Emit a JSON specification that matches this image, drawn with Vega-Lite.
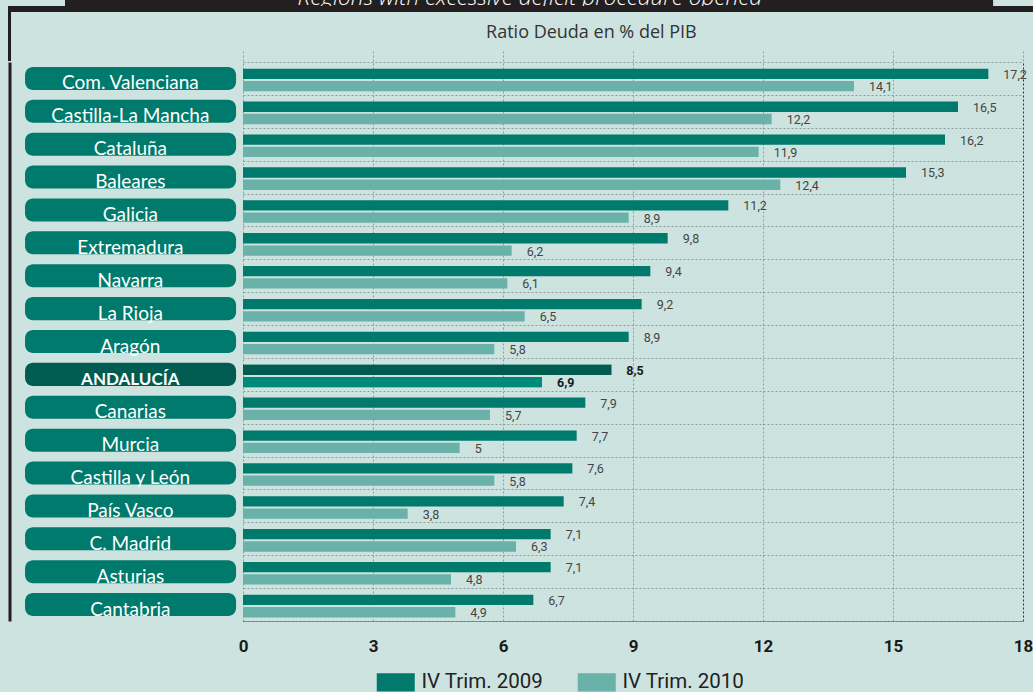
{
  "$schema": "https://vega.github.io/schema/vega-lite/v6.json",
  "background": "#cde3e0",
  "padding": {"left": 8, "top": 0, "right": 0, "bottom": 0},
  "spacing": 0,
  "config": {
    "view": {"stroke": null},
    "font": "Lato",
    "locale": {"number": {"decimal": ",", "thousands": ".", "grouping": [3], "currency": ["", " €"]}}
  },
  "vconcat": [
    {
      "width": 780,
      "height": 6,
      "data": {"values": [{"t": "Regions with excessive deficit procedure opened"}]},
      "layer": [
        {
          "mark": {"type": "rect", "color": "#231f20"},
          "encoding": {
            "x": {"datum": -4.108, "type": "quantitative", "scale": {"domain": [0, 18], "nice": false, "zero": false}, "axis": null},
            "x2": {"datum": 17.31},
            "y": {"value": 0},
            "y2": {"value": "height"}
          }
        },
        {
          "mark": {"type": "text", "clip": true, "color": "#ffffff", "font": "Open Sans", "fontStyle": "italic", "fontWeight": 300, "fontSize": 22.5, "baseline": "alphabetic", "dy": 1.5},
          "encoding": {
            "x": {"datum": 6.62, "type": "quantitative", "axis": null},
            "text": {"field": "t"}
          }
        }
      ]
    },
    {
      "width": 780,
      "height": 6,
      "data": {"values": [{}]},
      "mark": {"type": "rect", "color": "#231f20"},
      "encoding": {
        "x": {"datum": -5.423, "type": "quantitative", "scale": {"domain": [0, 18], "nice": false, "zero": false}, "axis": null},
        "x2": {"datum": 18.23},
        "y": {"value": 0},
        "y2": {"value": "height"}
      }
    },
    {
      "width": 780,
      "height": 49,
      "data": {"values": [{"t": "Ratio Deuda en % del PIB"}]},
      "resolve": {"axis": {"x": "independent"}},
      "layer": [
        {
          "mark": {"type": "rect", "color": "#231f20"},
          "encoding": {
            "x": {"datum": -5.423, "type": "quantitative", "scale": {"domain": [0, 18], "nice": false, "zero": false},
              "axis": {"orient": "bottom", "values": [0, 3, 6, 9, 12, 15, 18], "labels": false, "domain": false, "grid": false, "ticks": true, "tickSize": -11, "tickDash": [2, 2], "tickColor": "#8c9c9a", "title": null}},
            "x2": {"datum": -5.354},
            "y": {"value": 0},
            "y2": {"value": "height"}
          }
        },
        {
          "mark": {"type": "text", "color": "#333333", "font": "Open Sans", "fontSize": 18, "baseline": "middle", "dy": -3.5},
          "encoding": {
            "x": {"datum": 8.04, "type": "quantitative", "axis": null},
            "text": {"field": "t"}
          }
        }
      ]
    },
    {
      "width": 780,
      "height": 559,
      "data": {"values": [
        {"region": "Com. Valenciana", "serie": "IV Trim. 2009", "value": 17.2},
        {"region": "Com. Valenciana", "serie": "IV Trim. 2010", "value": 14.1},
        {"region": "Castilla-La Mancha", "serie": "IV Trim. 2009", "value": 16.5},
        {"region": "Castilla-La Mancha", "serie": "IV Trim. 2010", "value": 12.2},
        {"region": "Cataluña", "serie": "IV Trim. 2009", "value": 16.2},
        {"region": "Cataluña", "serie": "IV Trim. 2010", "value": 11.9},
        {"region": "Baleares", "serie": "IV Trim. 2009", "value": 15.3},
        {"region": "Baleares", "serie": "IV Trim. 2010", "value": 12.4},
        {"region": "Galicia", "serie": "IV Trim. 2009", "value": 11.2},
        {"region": "Galicia", "serie": "IV Trim. 2010", "value": 8.9},
        {"region": "Extremadura", "serie": "IV Trim. 2009", "value": 9.8},
        {"region": "Extremadura", "serie": "IV Trim. 2010", "value": 6.2},
        {"region": "Navarra", "serie": "IV Trim. 2009", "value": 9.4},
        {"region": "Navarra", "serie": "IV Trim. 2010", "value": 6.1},
        {"region": "La Rioja", "serie": "IV Trim. 2009", "value": 9.2},
        {"region": "La Rioja", "serie": "IV Trim. 2010", "value": 6.5},
        {"region": "Aragón", "serie": "IV Trim. 2009", "value": 8.9},
        {"region": "Aragón", "serie": "IV Trim. 2010", "value": 5.8},
        {"region": "ANDALUCÍA", "serie": "IV Trim. 2009", "value": 8.5},
        {"region": "ANDALUCÍA", "serie": "IV Trim. 2010", "value": 6.9},
        {"region": "Canarias", "serie": "IV Trim. 2009", "value": 7.9},
        {"region": "Canarias", "serie": "IV Trim. 2010", "value": 5.7},
        {"region": "Murcia", "serie": "IV Trim. 2009", "value": 7.7},
        {"region": "Murcia", "serie": "IV Trim. 2010", "value": 5},
        {"region": "Castilla y León", "serie": "IV Trim. 2009", "value": 7.6},
        {"region": "Castilla y León", "serie": "IV Trim. 2010", "value": 5.8},
        {"region": "País Vasco", "serie": "IV Trim. 2009", "value": 7.4},
        {"region": "País Vasco", "serie": "IV Trim. 2010", "value": 3.8},
        {"region": "C. Madrid", "serie": "IV Trim. 2009", "value": 7.1},
        {"region": "C. Madrid", "serie": "IV Trim. 2010", "value": 6.3},
        {"region": "Asturias", "serie": "IV Trim. 2009", "value": 7.1},
        {"region": "Asturias", "serie": "IV Trim. 2010", "value": 4.8},
        {"region": "Cantabria", "serie": "IV Trim. 2009", "value": 6.7},
        {"region": "Cantabria", "serie": "IV Trim. 2010", "value": 4.9}
      ]},
      "resolve": {"axis": {"x": "independent"}},
      "encoding": {
        "y": {
          "field": "region", "type": "nominal", "sort": null,
          "scale": {"domain": ["Com. Valenciana", "Castilla-La Mancha", "Cataluña", "Baleares", "Galicia", "Extremadura", "Navarra", "La Rioja", "Aragón", "ANDALUCÍA", "Canarias", "Murcia", "Castilla y León", "País Vasco", "C. Madrid", "Asturias", "Cantabria"], "paddingInner": 0, "paddingOuter": 0},
          "axis": {"title": null, "labels": false, "ticks": false, "domain": true, "domainColor": "#231f20", "domainWidth": 3, "offset": 233.5, "grid": true, "tickBand": "extent", "gridColor": "#8c9c9a", "gridDash": [2, 2], "gridWidth": 1}
        }
      },
      "layer": [
        {
          "transform": [{"filter": "datum.serie === 'IV Trim. 2009'"}],
          "mark": {"type": "bar", "cornerRadius": 8, "height": {"band": 0.7}},
          "encoding": {
            "x": {"datum": -5.03, "type": "quantitative", "axis": null},
            "x2": {"datum": -0.16},
            "color": {"condition": {"test": "datum.region === 'ANDALUCÍA'", "value": "#005c50"}, "value": "#007a6c"}
          }
        },
        {
          "transform": [{"filter": "datum.serie === 'IV Trim. 2009' && datum.region !== 'ANDALUCÍA'"}],
          "mark": {"type": "text", "color": "#ffffff", "font": "Lato", "fontSize": 19, "baseline": "alphabetic", "dy": 11},
          "encoding": {
            "x": {"datum": -2.6, "type": "quantitative", "axis": null},
            "text": {"field": "region"}
          }
        },
        {
          "transform": [{"filter": "datum.serie === 'IV Trim. 2009' && datum.region === 'ANDALUCÍA'"}],
          "mark": {"type": "text", "color": "#ffffff", "font": "Lato", "fontWeight": "bold", "fontSize": 17, "baseline": "alphabetic", "dy": 10.5},
          "encoding": {
            "x": {"datum": -2.6, "type": "quantitative", "axis": null},
            "text": {"field": "region"}
          }
        },
        {
          "mark": {"type": "bar"},
          "encoding": {
            "x": {"field": "value", "type": "quantitative", "scale": {"domain": [0, 18], "nice": false, "zero": true},
              "axis": {"orient": "bottom", "values": [0, 3, 6, 9, 12, 15, 18], "title": null, "domain": true, "domainColor": "#555555", "domainDash": [1, 1], "ticks": false, "labelPadding": 17, "labelFlush": false, "labelFont": "Roboto", "labelFontWeight": "bold", "labelFontSize": 17, "labelColor": "#1a1a1a",
                "grid": true, "gridColor": {"condition": {"test": "datum.value === 18", "value": "#333333"}, "value": "#8c9c9a"}, "gridDash": [2, 2]}},
            "yOffset": {"field": "serie", "type": "nominal", "scale": {"paddingInner": 0.16, "paddingOuter": 0.42, "align": 0.65}},
            "color": {"field": "serie", "type": "nominal",
              "scale": {"domain": ["IV Trim. 2009", "IV Trim. 2010"], "range": ["#007a6c", "#6ab1aa"]},
              "legend": {"orient": "none", "legendX": 142.5, "legendY": 672, "direction": "horizontal", "title": null, "padding": 0,
                "symbolType": "M-2,-0.95H2V0.95H-2Z", "symbolSize": 361, "symbolStrokeWidth": 0, "symbolOpacity": 1,
                "labelFont": "Roboto", "labelFontSize": 20.5, "labelColor": "#222222", "labelOffset": 15.5, "columnPadding": 34}}
          }
        },
        {
          "transform": [{"filter": "datum.region === 'ANDALUCÍA'"}],
          "mark": {"type": "bar"},
          "encoding": {
            "x": {"field": "value", "type": "quantitative", "axis": null},
            "yOffset": {"field": "serie", "type": "nominal"},
            "color": {"condition": {"test": "datum.serie === 'IV Trim. 2009'", "value": "#005c50"}, "value": "#008a7a"}
          }
        },
        {
          "transform": [{"filter": "datum.region !== 'ANDALUCÍA'"}],
          "mark": {"type": "text", "align": "left", "baseline": "middle", "dx": 15, "dy": 1, "font": "Roboto", "fontSize": 12.5, "color": "#444444"},
          "encoding": {
            "x": {"field": "value", "type": "quantitative", "axis": null},
            "yOffset": {"field": "serie", "type": "nominal"},
            "text": {"field": "value", "type": "quantitative", "format": ".1~f"}
          }
        },
        {
          "transform": [{"filter": "datum.region === 'ANDALUCÍA'"}],
          "mark": {"type": "text", "align": "left", "baseline": "middle", "dx": 15, "dy": 1, "font": "Roboto", "fontSize": 12.5, "fontWeight": "bold", "color": "#1a1a1a"},
          "encoding": {
            "x": {"field": "value", "type": "quantitative", "axis": null},
            "yOffset": {"field": "serie", "type": "nominal"},
            "text": {"field": "value", "type": "quantitative", "format": ".1~f"}
          }
        }
      ]
    }
  ]
}
